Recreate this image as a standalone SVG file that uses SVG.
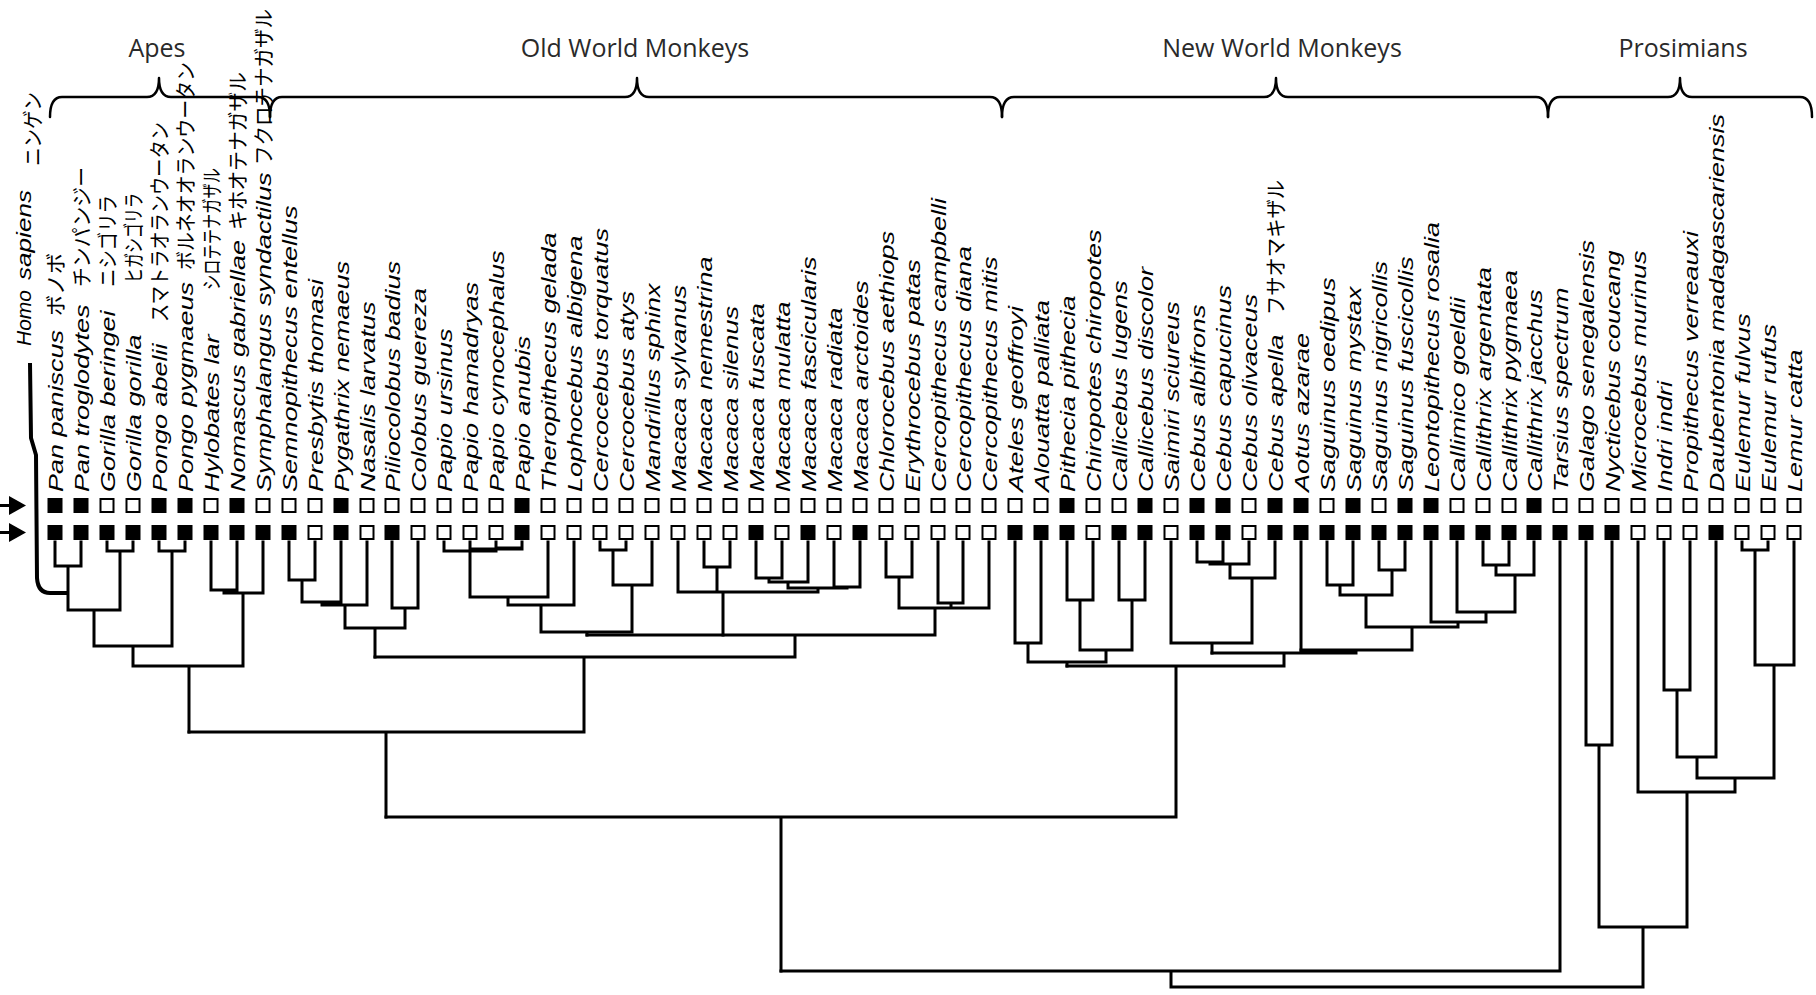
<svg xmlns="http://www.w3.org/2000/svg" width="1816" height="995" viewBox="0 0 1816 995">
<style>
.lb{font-family:"Liberation Sans",Arial,sans-serif;font-style:italic;font-size:27px;fill:#000}
.jp{font-family:"Noto Sans CJK JP","Noto Sans CJK SC",sans-serif;font-size:21px;fill:#000}
.hd{font-family:"Open Sans","Liberation Sans",sans-serif;font-size:25px;fill:#2a2a2a;text-anchor:middle}
.tr{fill:none;stroke:#000;stroke-width:3;stroke-linecap:square;stroke-linejoin:miter}
.br{fill:none;stroke:#000;stroke-width:2.5;stroke-linecap:round;stroke-linejoin:round}
</style>
<defs>
<rect id="sf" x="-7.5" y="-7.5" width="15" height="15" fill="#000"/>
<rect id="sh" x="-6.5" y="-6.5" width="13" height="13" fill="#fff" stroke="#000" stroke-width="2"/>
<marker id="ah" markerUnits="userSpaceOnUse" markerWidth="18" markerHeight="20" refX="9" refY="9.5" orient="auto">
<path d="M0,0 L17,9.5 L0,19 Z" fill="#000"/>
</marker>
</defs>
<rect width="1816" height="995" fill="#fff"/>

<g id="headers">
<path class="br" d="M50 117 Q50 97 62 97 H147 Q159 97 159 78 Q159 97 171 97 H258 Q270 97 270 117"/>
<path class="br" d="M270 117 Q270 97 282 97 H625 Q637 97 637 78 Q637 97 649 97 H990 Q1002 97 1002 117"/>
<path class="br" d="M1002 117 Q1002 97 1014 97 H1264 Q1276 97 1276 78 Q1276 97 1288 97 H1536 Q1548 97 1548 117"/>
<path class="br" d="M1548 117 Q1548 97 1560 97 H1668 Q1680 97 1680 78 Q1680 97 1692 97 H1800 Q1812 97 1812 117"/>
<text class="hd" x="157" y="57">Apes</text>
<text class="hd" x="635" y="57">Old World Monkeys</text>
<text class="hd" x="1282" y="57">New World Monkeys</text>
<text class="hd" x="1683" y="57">Prosimians</text>
</g>

<g id="arrows">
<line x1="0" y1="505.5" x2="18" y2="505.5" stroke="#000" stroke-width="3" marker-end="url(#ah)"/>
<line x1="0" y1="532.5" x2="18" y2="532.5" stroke="#000" stroke-width="3" marker-end="url(#ah)"/>
</g>

<g id="homo">
<text class="lb" transform="translate(31,346) rotate(-90) scale(1,0.78)" textLength="56" lengthAdjust="spacingAndGlyphs">Homo</text>
<text class="lb" transform="translate(31,280) rotate(-90) scale(1,0.78)" textLength="90" lengthAdjust="spacingAndGlyphs">sapiens</text>
<text class="jp" transform="translate(40,166) rotate(-90)" textLength="74" lengthAdjust="spacingAndGlyphs">ニンゲン</text>
</g>

<g id="taxa">
<g id="t01"><text class="lb" transform="translate(62.5,492) rotate(-90) scale(1,0.78)">Pan paniscus</text><text class="jp" transform="translate(63,316) rotate(-90)" textLength="63" lengthAdjust="spacingAndGlyphs">ボノボ</text><use href="#sf" x="55" y="505.5"/><use href="#sf" x="55" y="532.5"/></g>
<g id="t02"><text class="lb" transform="translate(88.5,492) rotate(-90) scale(1,0.78)">Pan troglodytes</text><text class="jp" transform="translate(89,287) rotate(-90)" textLength="120" lengthAdjust="spacingAndGlyphs">チンパンジー</text><use href="#sf" x="81" y="505.5"/><use href="#sf" x="81" y="532.5"/></g>
<g id="t03"><text class="lb" transform="translate(114.5,492) rotate(-90) scale(1,0.78)">Gorilla beringei</text><text class="jp" transform="translate(115,287) rotate(-90)" textLength="92" lengthAdjust="spacingAndGlyphs">ニシゴリラ</text><use href="#sh" x="107" y="505.5"/><use href="#sf" x="107" y="532.5"/></g>
<g id="t04"><text class="lb" transform="translate(140.5,492) rotate(-90) scale(1,0.78)">Gorilla gorilla</text><text class="jp" transform="translate(141,283) rotate(-90)" textLength="90" lengthAdjust="spacingAndGlyphs">ヒガシゴリラ</text><use href="#sh" x="133" y="505.5"/><use href="#sf" x="133" y="532.5"/></g>
<g id="t05"><text class="lb" transform="translate(166.5,492) rotate(-90) scale(1,0.78)">Pongo abelii</text><text class="jp" transform="translate(167,322) rotate(-90)" textLength="200" lengthAdjust="spacingAndGlyphs">スマトラオランウータン</text><use href="#sf" x="159" y="505.5"/><use href="#sf" x="159" y="532.5"/></g>
<g id="t06"><text class="lb" transform="translate(192.5,492) rotate(-90) scale(1,0.78)">Pongo pygmaeus</text><text class="jp" transform="translate(193,270) rotate(-90)" textLength="208" lengthAdjust="spacingAndGlyphs">ボルネオオランウータン</text><use href="#sf" x="185" y="505.5"/><use href="#sf" x="185" y="532.5"/></g>
<g id="t07"><text class="lb" transform="translate(218.5,492) rotate(-90) scale(1,0.78)">Hylobates lar</text><text class="jp" transform="translate(219,290) rotate(-90)" textLength="122" lengthAdjust="spacingAndGlyphs">シロテテナガザル</text><use href="#sh" x="211" y="505.5"/><use href="#sf" x="211" y="532.5"/></g>
<g id="t08"><text class="lb" transform="translate(244.5,492) rotate(-90) scale(1,0.78)">Nomascus gabriellae</text><text class="jp" transform="translate(245,230) rotate(-90)" textLength="158" lengthAdjust="spacingAndGlyphs">キホオテナガザル</text><use href="#sf" x="237" y="505.5"/><use href="#sf" x="237" y="532.5"/></g>
<g id="t09"><text class="lb" transform="translate(270.5,492) rotate(-90) scale(1,0.78)">Symphalangus syndactilus</text><text class="jp" transform="translate(271,165) rotate(-90)" textLength="156" lengthAdjust="spacingAndGlyphs">フクロテナガザル</text><use href="#sh" x="263" y="505.5"/><use href="#sf" x="263" y="532.5"/></g>
<g id="t10"><text class="lb" transform="translate(296.5,492) rotate(-90) scale(1,0.78)">Semnopithecus entellus</text><use href="#sh" x="289" y="505.5"/><use href="#sf" x="289" y="532.5"/></g>
<g id="t11"><text class="lb" transform="translate(322.5,492) rotate(-90) scale(1,0.78)">Presbytis thomasi</text><use href="#sh" x="315" y="505.5"/><use href="#sh" x="315" y="532.5"/></g>
<g id="t12"><text class="lb" transform="translate(348.5,492) rotate(-90) scale(1,0.78)">Pygathrix nemaeus</text><use href="#sf" x="341" y="505.5"/><use href="#sf" x="341" y="532.5"/></g>
<g id="t13"><text class="lb" transform="translate(374.5,492) rotate(-90) scale(1,0.78)">Nasalis larvatus</text><use href="#sh" x="367" y="505.5"/><use href="#sh" x="367" y="532.5"/></g>
<g id="t14"><text class="lb" transform="translate(399.5,492) rotate(-90) scale(1,0.78)">Piliocolobus badius</text><use href="#sh" x="392" y="505.5"/><use href="#sf" x="392" y="532.5"/></g>
<g id="t15"><text class="lb" transform="translate(425.5,492) rotate(-90) scale(1,0.78)">Colobus guereza</text><use href="#sh" x="418" y="505.5"/><use href="#sh" x="418" y="532.5"/></g>
<g id="t16"><text class="lb" transform="translate(451.5,492) rotate(-90) scale(1,0.78)">Papio ursinus</text><use href="#sh" x="444" y="505.5"/><use href="#sh" x="444" y="532.5"/></g>
<g id="t17"><text class="lb" transform="translate(477.5,492) rotate(-90) scale(1,0.78)">Papio hamadryas</text><use href="#sh" x="470" y="505.5"/><use href="#sh" x="470" y="532.5"/></g>
<g id="t18"><text class="lb" transform="translate(503.5,492) rotate(-90) scale(1,0.78)">Papio cynocephalus</text><use href="#sh" x="496" y="505.5"/><use href="#sh" x="496" y="532.5"/></g>
<g id="t19"><text class="lb" transform="translate(529.5,492) rotate(-90) scale(1,0.78)">Papio anubis</text><use href="#sf" x="522" y="505.5"/><use href="#sf" x="522" y="532.5"/></g>
<g id="t20"><text class="lb" transform="translate(555.5,492) rotate(-90) scale(1,0.78)">Theropithecus gelada</text><use href="#sh" x="548" y="505.5"/><use href="#sh" x="548" y="532.5"/></g>
<g id="t21"><text class="lb" transform="translate(581.5,492) rotate(-90) scale(1,0.78)">Lophocebus albigena</text><use href="#sh" x="574" y="505.5"/><use href="#sh" x="574" y="532.5"/></g>
<g id="t22"><text class="lb" transform="translate(607.5,492) rotate(-90) scale(1,0.78)">Cercocebus torquatus</text><use href="#sh" x="600" y="505.5"/><use href="#sh" x="600" y="532.5"/></g>
<g id="t23"><text class="lb" transform="translate(633.5,492) rotate(-90) scale(1,0.78)">Cercocebus atys</text><use href="#sh" x="626" y="505.5"/><use href="#sh" x="626" y="532.5"/></g>
<g id="t24"><text class="lb" transform="translate(659.5,492) rotate(-90) scale(1,0.78)">Mandrillus sphinx</text><use href="#sh" x="652" y="505.5"/><use href="#sh" x="652" y="532.5"/></g>
<g id="t25"><text class="lb" transform="translate(685.5,492) rotate(-90) scale(1,0.78)">Macaca sylvanus</text><use href="#sh" x="678" y="505.5"/><use href="#sh" x="678" y="532.5"/></g>
<g id="t26"><text class="lb" transform="translate(711.5,492) rotate(-90) scale(1,0.78)">Macaca nemestrina</text><use href="#sh" x="704" y="505.5"/><use href="#sh" x="704" y="532.5"/></g>
<g id="t27"><text class="lb" transform="translate(737.5,492) rotate(-90) scale(1,0.78)">Macaca silenus</text><use href="#sh" x="730" y="505.5"/><use href="#sh" x="730" y="532.5"/></g>
<g id="t28"><text class="lb" transform="translate(763.5,492) rotate(-90) scale(1,0.78)">Macaca fuscata</text><use href="#sh" x="756" y="505.5"/><use href="#sf" x="756" y="532.5"/></g>
<g id="t29"><text class="lb" transform="translate(789.5,492) rotate(-90) scale(1,0.78)">Macaca mulatta</text><use href="#sh" x="782" y="505.5"/><use href="#sh" x="782" y="532.5"/></g>
<g id="t30"><text class="lb" transform="translate(815.5,492) rotate(-90) scale(1,0.78)">Macaca fascicularis</text><use href="#sh" x="808" y="505.5"/><use href="#sf" x="808" y="532.5"/></g>
<g id="t31"><text class="lb" transform="translate(841.5,492) rotate(-90) scale(1,0.78)">Macaca radiata</text><use href="#sh" x="834" y="505.5"/><use href="#sh" x="834" y="532.5"/></g>
<g id="t32"><text class="lb" transform="translate(867.5,492) rotate(-90) scale(1,0.78)">Macaca arctoides</text><use href="#sh" x="860" y="505.5"/><use href="#sf" x="860" y="532.5"/></g>
<g id="t33"><text class="lb" transform="translate(893.5,492) rotate(-90) scale(1,0.78)">Chlorocebus aethiops</text><use href="#sh" x="886" y="505.5"/><use href="#sh" x="886" y="532.5"/></g>
<g id="t34"><text class="lb" transform="translate(919.5,492) rotate(-90) scale(1,0.78)">Erythrocebus patas</text><use href="#sh" x="912" y="505.5"/><use href="#sh" x="912" y="532.5"/></g>
<g id="t35"><text class="lb" transform="translate(945.5,492) rotate(-90) scale(1,0.78)">Cercopithecus campbelli</text><use href="#sh" x="938" y="505.5"/><use href="#sh" x="938" y="532.5"/></g>
<g id="t36"><text class="lb" transform="translate(970.5,492) rotate(-90) scale(1,0.78)">Cercopithecus diana</text><use href="#sh" x="963" y="505.5"/><use href="#sh" x="963" y="532.5"/></g>
<g id="t37"><text class="lb" transform="translate(996.5,492) rotate(-90) scale(1,0.78)">Cercopithecus mitis</text><use href="#sh" x="989" y="505.5"/><use href="#sh" x="989" y="532.5"/></g>
<g id="t38"><text class="lb" transform="translate(1022.5,492) rotate(-90) scale(1,0.78)">Ateles geoffroyi</text><use href="#sh" x="1015" y="505.5"/><use href="#sf" x="1015" y="532.5"/></g>
<g id="t39"><text class="lb" transform="translate(1048.5,492) rotate(-90) scale(1,0.78)">Alouatta palliata</text><use href="#sh" x="1041" y="505.5"/><use href="#sf" x="1041" y="532.5"/></g>
<g id="t40"><text class="lb" transform="translate(1074.5,492) rotate(-90) scale(1,0.78)">Pithecia pithecia</text><use href="#sf" x="1067" y="505.5"/><use href="#sf" x="1067" y="532.5"/></g>
<g id="t41"><text class="lb" transform="translate(1100.5,492) rotate(-90) scale(1,0.78)">Chiropotes chiropotes</text><use href="#sh" x="1093" y="505.5"/><use href="#sh" x="1093" y="532.5"/></g>
<g id="t42"><text class="lb" transform="translate(1126.5,492) rotate(-90) scale(1,0.78)">Callicebus lugens</text><use href="#sh" x="1119" y="505.5"/><use href="#sf" x="1119" y="532.5"/></g>
<g id="t43"><text class="lb" transform="translate(1152.5,492) rotate(-90) scale(1,0.78)">Callicebus discolor</text><use href="#sf" x="1145" y="505.5"/><use href="#sf" x="1145" y="532.5"/></g>
<g id="t44"><text class="lb" transform="translate(1178.5,492) rotate(-90) scale(1,0.78)">Saimiri sciureus</text><use href="#sh" x="1171" y="505.5"/><use href="#sh" x="1171" y="532.5"/></g>
<g id="t45"><text class="lb" transform="translate(1204.5,492) rotate(-90) scale(1,0.78)">Cebus albifrons</text><use href="#sf" x="1197" y="505.5"/><use href="#sf" x="1197" y="532.5"/></g>
<g id="t46"><text class="lb" transform="translate(1230.5,492) rotate(-90) scale(1,0.78)">Cebus capucinus</text><use href="#sf" x="1223" y="505.5"/><use href="#sf" x="1223" y="532.5"/></g>
<g id="t47"><text class="lb" transform="translate(1256.5,492) rotate(-90) scale(1,0.78)">Cebus olivaceus</text><use href="#sh" x="1249" y="505.5"/><use href="#sh" x="1249" y="532.5"/></g>
<g id="t48"><text class="lb" transform="translate(1282.5,492) rotate(-90) scale(1,0.78)">Cebus apella</text><text class="jp" transform="translate(1283,315) rotate(-90)" textLength="135" lengthAdjust="spacingAndGlyphs">フサオマキザル</text><use href="#sf" x="1275" y="505.5"/><use href="#sf" x="1275" y="532.5"/></g>
<g id="t49"><text class="lb" transform="translate(1308.5,492) rotate(-90) scale(1,0.78)">Aotus azarae</text><use href="#sf" x="1301" y="505.5"/><use href="#sf" x="1301" y="532.5"/></g>
<g id="t50"><text class="lb" transform="translate(1334.5,492) rotate(-90) scale(1,0.78)">Saguinus oedipus</text><use href="#sh" x="1327" y="505.5"/><use href="#sf" x="1327" y="532.5"/></g>
<g id="t51"><text class="lb" transform="translate(1360.5,492) rotate(-90) scale(1,0.78)">Saguinus mystax</text><use href="#sf" x="1353" y="505.5"/><use href="#sf" x="1353" y="532.5"/></g>
<g id="t52"><text class="lb" transform="translate(1386.5,492) rotate(-90) scale(1,0.78)">Saguinus nigricollis</text><use href="#sh" x="1379" y="505.5"/><use href="#sf" x="1379" y="532.5"/></g>
<g id="t53"><text class="lb" transform="translate(1412.5,492) rotate(-90) scale(1,0.78)">Saguinus fuscicollis</text><use href="#sf" x="1405" y="505.5"/><use href="#sf" x="1405" y="532.5"/></g>
<g id="t54"><text class="lb" transform="translate(1438.5,492) rotate(-90) scale(1,0.78)">Leontopithecus rosalia</text><use href="#sf" x="1431" y="505.5"/><use href="#sf" x="1431" y="532.5"/></g>
<g id="t55"><text class="lb" transform="translate(1464.5,492) rotate(-90) scale(1,0.78)">Callimico goeldii</text><use href="#sh" x="1457" y="505.5"/><use href="#sf" x="1457" y="532.5"/></g>
<g id="t56"><text class="lb" transform="translate(1490.5,492) rotate(-90) scale(1,0.78)">Callithrix argentata</text><use href="#sh" x="1483" y="505.5"/><use href="#sf" x="1483" y="532.5"/></g>
<g id="t57"><text class="lb" transform="translate(1516.5,492) rotate(-90) scale(1,0.78)">Callithrix pygmaea</text><use href="#sh" x="1509" y="505.5"/><use href="#sf" x="1509" y="532.5"/></g>
<g id="t58"><text class="lb" transform="translate(1541.5,492) rotate(-90) scale(1,0.78)">Callithrix jacchus</text><use href="#sf" x="1534" y="505.5"/><use href="#sf" x="1534" y="532.5"/></g>
<g id="t59"><text class="lb" transform="translate(1567.5,492) rotate(-90) scale(1,0.78)">Tarsius spectrum</text><use href="#sh" x="1560" y="505.5"/><use href="#sf" x="1560" y="532.5"/></g>
<g id="t60"><text class="lb" transform="translate(1593.5,492) rotate(-90) scale(1,0.78)">Galago senegalensis</text><use href="#sh" x="1586" y="505.5"/><use href="#sf" x="1586" y="532.5"/></g>
<g id="t61"><text class="lb" transform="translate(1619.5,492) rotate(-90) scale(1,0.78)">Nycticebus coucang</text><use href="#sh" x="1612" y="505.5"/><use href="#sf" x="1612" y="532.5"/></g>
<g id="t62"><text class="lb" transform="translate(1645.5,492) rotate(-90) scale(1,0.78)">Microcebus murinus</text><use href="#sh" x="1638" y="505.5"/><use href="#sh" x="1638" y="532.5"/></g>
<g id="t63"><text class="lb" transform="translate(1671.5,492) rotate(-90) scale(1,0.78)">Indri indri</text><use href="#sh" x="1664" y="505.5"/><use href="#sh" x="1664" y="532.5"/></g>
<g id="t64"><text class="lb" transform="translate(1697.5,492) rotate(-90) scale(1,0.78)">Propithecus verreauxi</text><use href="#sh" x="1690" y="505.5"/><use href="#sh" x="1690" y="532.5"/></g>
<g id="t65"><text class="lb" transform="translate(1723.5,492) rotate(-90) scale(1,0.78)">Daubentonia madagascariensis</text><use href="#sh" x="1716" y="505.5"/><use href="#sf" x="1716" y="532.5"/></g>
<g id="t66"><text class="lb" transform="translate(1749.5,492) rotate(-90) scale(1,0.78)">Eulemur fulvus</text><use href="#sh" x="1742" y="505.5"/><use href="#sh" x="1742" y="532.5"/></g>
<g id="t67"><text class="lb" transform="translate(1775.5,492) rotate(-90) scale(1,0.78)">Eulemur rufus</text><use href="#sh" x="1768" y="505.5"/><use href="#sh" x="1768" y="532.5"/></g>
<g id="t68"><text class="lb" transform="translate(1801.5,492) rotate(-90) scale(1,0.78)">Lemur catta</text><use href="#sh" x="1794" y="505.5"/><use href="#sh" x="1794" y="532.5"/></g>
</g>

<g id="connectors">
<path d="M30 363 L31 438 L36 455 L37 578 Q38 593 50 593 H68" fill="none" stroke="#000" stroke-width="4" stroke-linejoin="round"/>
<path class="tr" d="M55 542V566H81V542 M68 566V610 M107 542V551H133V542 M120 551V610 M68 610H120 M94 610V646 M159 542V551H185V542 M172 551V646 M94 646H172 M133 646V666 M211 542V590H237V542 M224 590V593 M224 593H263V542 M243 593V666 M133 666H243 M189 666V732"/>
<path class="tr" d="M289 542V580H315V542 M302 580V602 M302 602H341V542 M322 602V605 M322 605H367V542 M345 605V628 M392 542V608H418V542 M405 608V628 M345 628H405 M375 628V657"/>
<path class="tr" d="M444 542V551H496 M470 542V597 M496 542V548H522V542 M470 549H522 M548 542V597 M470 597H548 M508 597V605 M574 542V605 M508 605H574 M541 605V632 M600 542V550H626V542 M613 550V585 M652 542V585 M613 585H652 M632 585V632 M541 632H632 M587 632V635"/>
<path class="tr" d="M678 542V592 M704 542V567H730V542 M717 567V592 M756 542V578H782V542 M769 578V582 M808 542V582 M769 582H808 M788 582V588 M834 542V587H860V542 M847 587V588 M788 588H847 M818 588V592 M678 592H818 M723 592V635"/>
<path class="tr" d="M886 542V577H912V542 M899 577V608 M938 542V603H963V542 M951 603V608 M989 542V608 M899 608H989 M935 608V635 M587 635H935 M795 635V657 M375 657H795 M584 657V732 M189 732H584 M386 732V817"/>
<path class="tr" d="M1015 542V643H1041V542 M1028 643V662 M1067 542V600H1093V542 M1080 600V650 M1119 542V600H1145V542 M1132 600V650 M1080 650H1132 M1106 650V662 M1028 662H1106 M1067 662V666 M1171 542V643 M1197 542V562H1223V542 M1210 562V564 M1249 542V564 M1210 564H1249 M1230 564V578 M1275 542V578 M1230 578H1275 M1252 578V643 M1171 643H1252 M1212 643V653 M1301 542V650"/>
<path class="tr" d="M1327 542V585H1353V542 M1340 585V595 M1379 542V570H1405V542 M1392 570V595 M1340 595H1392 M1366 595V627 M1431 542V622 M1457 542V612 M1483 542V565H1509V542 M1496 565V575 M1534 542V575 M1496 575H1534 M1515 575V612 M1457 612H1515 M1486 612V622 M1431 622H1486 M1458 622V627 M1366 627H1458 M1412 627V650 M1301 650H1412 M1356 650V653 M1212 653H1356 M1284 653V666 M1067 666H1284 M1176 666V817 M386 817H1176 M781 817V971"/>
<path class="tr" d="M1560 542V971 M781 971H1560 M1171 971V987 M1586 542V745H1612V542 M1599 745V927 M1638 542V792 M1664 542V690H1690V542 M1677 690V757 M1716 542V757 M1677 757H1716 M1697 757V778 M1742 542V550H1768V542 M1755 550V665 M1794 542V665 M1755 665H1794 M1774 665V778 M1697 778H1774 M1735 778V792 M1638 792H1735 M1687 792V927 M1599 927H1687 M1643 927V987 M1171 987H1643"/>
</g>
</svg>
